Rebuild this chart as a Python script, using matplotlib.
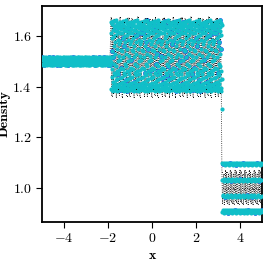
import matplotlib
matplotlib.use("Agg")
import matplotlib.pyplot as plt
import numpy as np

plt.rcParams['font.family'] = 'serif'
plt.rcParams['font.serif'] = ['cmr10']
plt.rcParams['axes.formatter.use_mathtext'] = True
plt.rcParams['mathtext.fontset'] = 'cm'

# region edges (x) and particle counts per region
x_edges = [-5.0, -1.86, 3.18, 5.05]
n_cyan = [220, 700, 170]
n_black = [60, 150, 70]

# densities (one repeating stretch per region)
left_cyan = [1.517, 1.488, 1.507, 1.485, 1.514, 1.495, 1.518, 1.487, 1.502, 1.511,
             1.484, 1.498, 1.516, 1.490, 1.509, 1.486, 1.513, 1.493, 1.505, 1.488,
             1.500, 1.515, 1.491]
left_black = [1.512, 1.492, 1.505, 1.489, 1.510, 1.496, 1.515, 1.490, 1.500, 1.508]

mid_cyan = [1.655, 1.392, 1.610, 1.438, 1.540, 1.385, 1.648, 1.470, 1.590, 1.402,
            1.660, 1.515, 1.420, 1.625, 1.383, 1.560, 1.455, 1.640, 1.398, 1.600,
            1.490, 1.658, 1.410, 1.575, 1.445, 1.635, 1.388, 1.530, 1.620, 1.425,
            1.662, 1.480, 1.395, 1.605, 1.460, 1.650, 1.382, 1.550, 1.430, 1.645,
            1.405, 1.585, 1.500, 1.630, 1.390, 1.615, 1.448, 1.653, 1.520, 1.412,
            1.642, 1.465, 1.568, 1.386, 1.612, 1.435, 1.657, 1.505, 1.398, 1.580,
            1.475, 1.628, 1.415, 1.545, 1.395, 1.638]
mid_black = [1.672, 1.362, 1.650, 1.375, 1.668, 1.450, 1.600, 1.358, 1.665, 1.390,
             1.640, 1.368, 1.675, 1.420, 1.630, 1.360, 1.660, 1.380, 1.655, 1.470,
             1.590, 1.365, 1.670, 1.400]

right_cyan = [1.098, 0.906, 1.032, 0.968, 1.093, 0.912, 0.972, 1.028, 1.100, 0.903,
              1.035, 0.965, 1.090, 0.915, 1.030, 0.910]
right_black = [1.065, 0.940, 1.000, 1.055, 0.935, 0.995, 1.070, 0.950]

# single particle sitting in the jump
jump_x = [3.19]
jump_rho = [1.31]

xt = [-4, -2, 0, 2, 4]
yt = [1.0, 1.2, 1.4, 1.6]

cyan_sets = [left_cyan, mid_cyan, right_cyan]
black_sets = [left_black, mid_black, right_black]


def build(sets, counts):
    xs, rs = [], []
    for i in range(3):
        n = counts[i]
        xs.append(np.linspace(x_edges[i], x_edges[i + 1], n, endpoint=(i == 2)))
        rs.append(np.resize(sets[i], n))
    return np.concatenate(xs), np.concatenate(rs)


xc, rho_c = build(cyan_sets, n_cyan)
xb, rho_b = build(black_sets, n_black)

cyan = '#10bfc8'

fig = plt.figure(figsize=(2.70, 2.63), dpi=100)
ax = fig.add_axes([0.156, 0.156, 0.814, 0.821])

ax.plot(xb, rho_b, ':', color='0.1', lw=0.6, marker='.', ms=1.2, mew=0, zorder=2)
ax.plot(xc[::7], rho_c[::7], 'o', color='#2a3cff', ms=3.4, mew=0, zorder=3)
ax.plot(xc, rho_c, 'o', color=cyan, ms=3.0, mew=0, zorder=4)
ax.plot(jump_x, jump_rho, 'o', color=cyan, ms=3.0, mew=0, zorder=4)
ax.plot(xb[60:210:3], rho_b[60:210:3], 'k.', ms=1.5, mew=0, zorder=5)

ax.set_xlim(-5, 5)
ax.set_ylim(0.866, 1.718)
ax.set_xticks(xt)
ax.set_yticks(yt)
ax.tick_params(labelsize=10, length=4, width=0.8)
for s in ax.spines.values():
    s.set_linewidth(1.3)

ax.set_xlabel('x', fontfamily='cmb10', fontsize=10, labelpad=3)
ax.set_ylabel('Density', fontfamily='cmb10', fontsize=10, labelpad=1)

plt.savefig('out.png', dpi=100)
